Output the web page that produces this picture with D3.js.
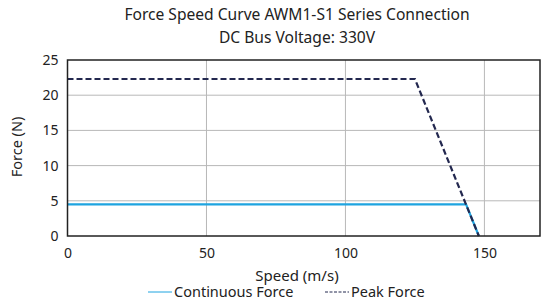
<!DOCTYPE html>
<html><head><meta charset="utf-8">
<script src="https://cdn.jsdelivr.net/npm/d3@7"></script>
<style>body{margin:0;background:#fff}svg{display:block;font-family:"Noto Sans",sans-serif}</style>
</head><body><svg id="c" width="543" height="304"></svg>
<script>
const titleLines = ["Force Speed Curve AWM1-S1 Series Connection", "DC Bus Voltage: 330V"];
const xTicks = [0, 50, 100, 150];
const yTicks = [0, 5, 10, 15, 20, 25];
const continuousSpeed = [0, 143.4, 148];
const continuousForce = [4.5, 4.5, 0];
const peakSpeed = [0, 125, 148];
const peakForce = [22.3, 22.3, 0];
const seriesNames = ["Continuous Force", "Peak Force"];

const svg = d3.select("#c");
const m = {l: 67.5, r: 540, t: 60, b: 236};
const x = d3.scaleLinear().domain([0, 170]).range([m.l, m.r]);
const y = d3.scaleLinear().domain([0, 25]).range([m.b, m.t]);

svg.append("g").selectAll("line").data(xTicks.filter(d => d > 0)).join("line")
  .attr("x1", d => x(d)).attr("x2", d => x(d)).attr("y1", m.t).attr("y2", m.b)
  .attr("stroke", "#b8b8b8").attr("stroke-width", 1);
svg.append("g").selectAll("line").data(yTicks.filter(d => d > 0 && d < 25)).join("line")
  .attr("x1", m.l).attr("x2", m.r).attr("y1", d => y(d)).attr("y2", d => y(d))
  .attr("stroke", "#b8b8b8").attr("stroke-width", 1);

const xa = svg.append("g").attr("transform", `translate(0,${m.b})`)
  .call(d3.axisBottom(x).tickValues(xTicks).tickSize(0).tickPadding(12));
const ya = svg.append("g").attr("transform", `translate(${m.l},0)`)
  .call(d3.axisLeft(y).tickValues(yTicks).tickSize(0).tickPadding(9));
[xa, ya].forEach(a => {
  a.select(".domain").remove();
  a.selectAll("text").attr("font-size", 14).attr("fill", "#222").attr("font-family", "'Noto Sans',sans-serif");
});

const line = d3.line().x(d => x(d[0])).y(d => y(d[1]));
svg.append("path").datum(continuousSpeed.map((s, i) => [s, continuousForce[i]]))
  .attr("d", line).attr("fill", "none").attr("stroke", "#1ea4e0").attr("stroke-width", 2.2);
svg.append("path").datum(peakSpeed.map((s, i) => [s, peakForce[i]]))
  .attr("d", line).attr("fill", "none").attr("stroke", "#23284f").attr("stroke-width", 2.2)
  .attr("stroke-dasharray", "6,3");

svg.append("rect").attr("x", m.l).attr("y", m.t).attr("width", m.r - m.l).attr("height", m.b - m.t)
  .attr("fill", "none").attr("stroke", "#222").attr("stroke-width", 1.5);

svg.append("g").selectAll("text").data(titleLines).join("text")
  .attr("x", 297).attr("y", (d, i) => 20 + i * 23).attr("text-anchor", "middle")
  .attr("font-size", 15.6).attr("fill", "#222").text(d => d);

svg.append("text").attr("transform", "translate(22,147) rotate(-90)").attr("text-anchor", "middle")
  .attr("font-size", 14.5).attr("fill", "#222").text("Force (N)");
svg.append("text").attr("x", 297).attr("y", 280.5).attr("text-anchor", "middle")
  .attr("font-size", 15).attr("fill", "#222").text("Speed (m/s)");

const lg = svg.append("g");
const legX = [148, 325];
seriesNames.forEach((n, i) => {
  lg.append("line").attr("x1", legX[i]).attr("x2", legX[i] + 24).attr("y1", 292).attr("y2", 292)
    .attr("stroke", i === 0 ? "#1ea4e0" : "#23284f").attr("stroke-width", 1)
    .attr("stroke-dasharray", i === 0 ? null : "3,1.5");
  lg.append("text").attr("x", legX[i] + 26).attr("y", 296.5).attr("font-size", 14.5).attr("fill", "#222").text(n);
});
</script></body></html>
